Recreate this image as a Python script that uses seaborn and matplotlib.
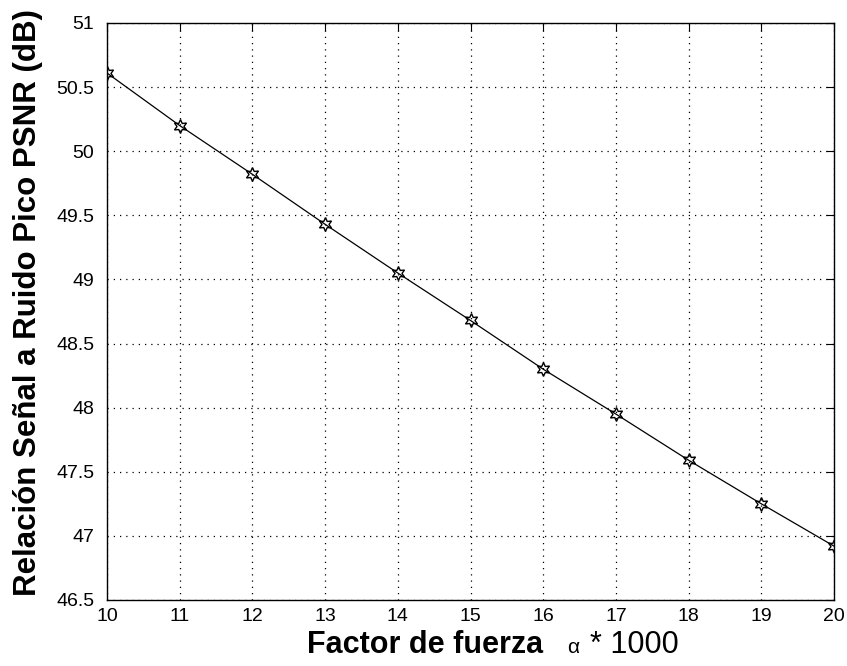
import matplotlib
matplotlib.use("Agg")
import matplotlib.pyplot as plt
import seaborn as sns
import pandas as pd

# Embedding strength (alpha * 1000) and resulting PSNR in dB
alpha_k = [10, 11, 12, 13, 14, 15, 16, 17, 18, 19, 20]
psnr_db = [50.61, 50.20, 49.82, 49.43, 49.05, 48.68, 48.30, 47.95, 47.59, 47.25, 46.92]

x_ticks = [10, 11, 12, 13, 14, 15, 16, 17, 18, 19, 20]
y_ticks = [46.5, 47, 47.5, 48, 48.5, 49, 49.5, 50, 50.5, 51]
y_tick_labels = ["46.5", "47", "47.5", "48", "48.5", "49", "49.5", "50", "50.5", "51"]

sns.set_style("white")
plt.rcParams["font.family"] = ["Liberation Sans", "DejaVu Sans"]
plt.rcParams["text.color"] = "black"
plt.rcParams["axes.labelcolor"] = "black"

df = pd.DataFrame({"alpha": alpha_k, "psnr": psnr_db})

fig = plt.figure(figsize=(8.47, 6.66), dpi=100)
ax = fig.add_axes([0.1263, 0.0991, 0.8584, 0.8664])

sns.lineplot(data=df, x="alpha", y="psnr", ax=ax, color="black", linewidth=0.9,
             marker=(6, 1, 0), markersize=10, markerfacecolor="none",
             markeredgecolor="black", markeredgewidth=1.0)

ax.set_xlim(10, 20)
ax.set_ylim(46.5, 51)
ax.set_xticks(x_ticks)
ax.set_yticks(y_ticks)
ax.set_xticklabels([str(v) for v in x_ticks])
ax.set_yticklabels(y_tick_labels)
ax.tick_params(axis="both", which="both", direction="in", length=6, width=0.8,
               top=True, right=True, labelsize=14, colors="black", labelcolor="black")
ax.tick_params(axis="y", pad=9)
ax.tick_params(axis="x", pad=6)

ax.grid(True, linestyle=(0, (1, 4)), color="black", linewidth=0.9)
for s in ax.spines.values():
    s.set_visible(True)
    s.set_color("black")
    s.set_linewidth(1.0)

ax.set_xlabel("")
ax.set_ylabel("Relación Señal a Ruido Pico PSNR (dB)", fontsize=22.5,
              fontweight="bold", color="black")
ax.yaxis.set_label_coords(-0.088, 0.516)

# x-axis label made of a bold phrase followed by the scale factor
fig.text(0.641, 0.0195, "Factor de fuerza", fontsize=22, fontweight="bold",
         ha="right", va="baseline", color="black")
fig.text(0.669, 0.0195, "α", fontsize=15, ha="left", va="baseline", color="black")
fig.text(0.697, 0.0195, "* 1000", fontsize=22, ha="left", va="baseline", color="black")

fig.savefig("out.png", dpi=100, facecolor="white")
